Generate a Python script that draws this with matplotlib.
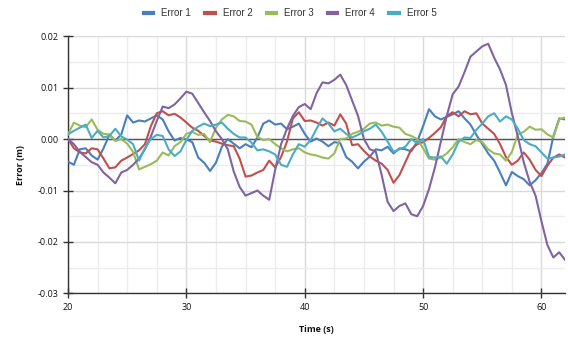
import numpy as np
import matplotlib
matplotlib.use('Agg')
import matplotlib.pyplot as plt
from matplotlib.ticker import MultipleLocator, FuncFormatter

#--------------------------------------------------------------------------------------------------
# DATA (in mm, every 0.5 s)
#--------------------------------------------------------------------------------------------------

time_s = np.arange(20, 62.01, 0.5)

err1_mm = [-4.4, -5.0, -2.0, -1.8, -3.2, -4.0, -1.8, 0.8, -0.3, 0.9,
           4.6, 3.2, 3.6, 3.4, 4.0, 4.6, 3.8, 1.5, -0.3, 0.2,
           -0.1, -0.6, -3.6, -4.6, -6.2, -4.6, -1.5, 0.0, -0.9, -1.8,
           -1.0, -1.6, 0.3, 3.0, 3.6, 2.8, 3.0, 1.9, 2.4, 3.0,
           1.0, -0.5, 0.1, -0.5, -1.4, -0.6, -0.8, -3.5, -4.4, -5.7,
           -4.4, -3.4, -2.0, -2.2, -1.5, -2.8, -1.8, -2.0, -2.4, -0.5,
           2.5, 5.8, 4.4, 3.8, 4.3, 4.8, 5.4, 4.0, 2.8, 0.8,
           -1.0, -2.8, -4.2, -6.5, -9.0, -6.4, -7.2, -7.8, -9.0, -8.0,
           -6.6, -4.8, 0.5, 4.0, 3.8]

err2_mm = [0.0, -1.8, -2.6, -2.8, -1.8, -2.0, -3.8, -5.7, -5.5, -4.2,
           -3.6, -2.9, -2.2, -1.0, 2.5, 5.0, 5.4, 4.6, 4.9, 4.2,
           3.2, 2.2, 1.6, 0.6, -0.3, -0.5, -0.9, -1.2, -1.4, -3.8,
           -7.3, -7.1, -6.5, -6.0, -4.2, -5.5, -3.5, -0.5, 4.0, 5.2,
           3.5, 3.6, 3.2, 2.6, 3.2, 2.6, 4.8, 3.0, -1.2, -1.0,
           -2.3, -3.4, -4.2, -4.8, -6.0, -8.5, -7.0, -4.5, -2.0, -1.0,
           -0.6, 0.2, 1.2, 2.3, 4.5, 5.2, 4.4, 5.4, 4.8, 5.0,
           3.0, 2.0, 1.0, -1.0, -3.5, -5.0, -4.2, -2.6, -4.0, -6.0,
           -7.2, -5.2, -3.6, -3.0, -3.6]

err3_mm = [0.9, 3.2, 2.6, 2.3, 3.8, 1.8, 1.0, 0.9, -0.4, 0.0,
           -0.9, -2.5, -5.9, -5.4, -4.9, -4.2, -2.6, -3.2, -1.4, -0.6,
           1.0, 1.4, 0.8, 1.0, -0.6, 2.2, 3.8, 4.7, 4.4, 3.5,
           3.4, 2.8, 0.4, -0.2, 0.0, -1.0, -1.8, -2.4, -2.0, -1.8,
           -2.6, -3.0, -3.2, -3.6, -3.8, -2.8, 0.0, 0.1, 1.0, 1.4,
           2.0, 3.0, 3.2, 2.6, 2.8, 2.4, 2.2, 1.0, 0.6, 0.0,
           -1.8, -3.8, -4.0, -3.6, -2.8, -1.6, 0.0, -0.6, -1.0, -0.2,
           -0.6, -2.0, -2.8, -3.0, -4.2, -2.5, 0.9, 1.4, 2.4, 1.8,
           1.9, 0.9, 0.3, 3.8, 4.2]

err4_mm = [0.0, -1.0, -2.5, -3.5, -4.5, -5.0, -6.5, -7.5, -8.6, -6.5,
           -6.0, -5.0, -3.8, -2.0, 0.5, 3.5, 6.3, 6.0, 6.7, 7.9,
           9.2, 8.8, 7.0, 5.2, 3.5, 1.5, 0.0, -2.0, -6.3, -9.3,
           -11.0, -10.5, -10.0, -11.0, -11.8, -6.0, -1.0, 2.0, 4.5, 6.2,
           6.8, 5.8, 8.9, 11.0, 10.8, 11.5, 12.5, 10.5, 7.5, 4.5,
           0.0, -2.0, -2.4, -7.0, -12.2, -14.0, -13.0, -12.5, -14.6, -15.0,
           -13.0, -9.7, -5.5, -0.5, 4.5, 8.7, 10.2, 13.0, 16.0, 17.0,
           18.0, 18.5, 15.8, 13.5, 10.5, 5.0, 0.5, -4.5, -8.3, -11.0,
           -16.0, -20.6, -23.0, -22.0, -23.5]

err5_mm = [0.9, 1.6, 2.2, 2.8, 0.2, 1.6, 0.3, 0.6, 2.0, 0.5,
           -0.1, -1.0, -4.2, -1.8, 0.0, 0.8, 0.6, -2.0, -3.3, -2.4,
           -0.2, 1.6, 2.4, 3.0, 2.5, 2.8, 3.2, 2.0, 1.0, 0.3,
           0.3, -0.7, -2.2, -2.0, -2.4, -3.0, -5.0, -5.4, -3.0, -1.0,
           -1.5, -0.2, 2.0, 4.0, 3.0, 1.5, 2.0, 1.0, 0.3, 0.8,
           1.5, 2.0, 2.8, 1.4, -0.5, -2.5, -2.0, -1.5, 0.0, -0.8,
           0.0, -3.5, -3.6, -3.4, -4.8, -3.0, -0.5, 0.3, 0.2, 1.8,
           3.0, 4.4, 5.0, 3.4, 4.4, 3.8, 2.0, -0.2, -1.0, -1.4,
           -2.6, -3.8, -3.6, -3.4, -3.0]

labels = ['Error 1', 'Error 2', 'Error 3', 'Error 4', 'Error 5']
colors = ['#4a7ebf', '#c0504d', '#9bbb59', '#8064a2', '#4bacc6']

#--------------------------------------------------------------------------------------------------
# PLOT
#--------------------------------------------------------------------------------------------------

plt.rcParams['font.family'] = ['Open Sans', 'DejaVu Sans']

fig = plt.figure(figsize=(5.68, 3.40), dpi=100)
ax = fig.add_axes([0.1197, 0.1368, 0.8753, 0.7572])

for vals, lab, col in zip([err1_mm, err2_mm, err3_mm, err4_mm, err5_mm], labels, colors):
    ax.plot(time_s, np.array(vals) / 1000.0, color=col, lw=1.5, label=lab, zorder=3)

ax.axhline(0, color='#555555', lw=1.0, zorder=2)

ax.set_xlim(20, 62)
ax.set_ylim(-0.03, 0.02)
ax.xaxis.set_major_locator(MultipleLocator(10))
ax.xaxis.set_minor_locator(MultipleLocator(2.5))
ax.yaxis.set_major_locator(MultipleLocator(0.01))
ax.yaxis.set_minor_locator(MultipleLocator(0.005))
ax.yaxis.set_major_formatter(FuncFormatter(lambda v, p: '%.2f' % (round(v, 4) + 0.0)))

ax.grid(which='major', color='#d9d9d9', lw=1.0, zorder=0)
ax.grid(which='minor', color='#ececec', lw=1.0, zorder=0)
ax.set_axisbelow(True)

for s in ['top', 'right']:
    ax.spines[s].set_visible(False)
for s in ['left', 'bottom']:
    ax.spines[s].set_color('#333333')
    ax.spines[s].set_linewidth(1.0)

ax.tick_params(which='major', direction='inout', length=7, width=1, color='#333333',
               labelsize=6.5, labelcolor='#111111', pad=3)
ax.tick_params(which='minor', length=0)

ax.set_xlabel('Time (s)', fontsize=6.5, fontweight='bold', color='#111111', labelpad=10)
ax.set_ylabel('Error (m)', fontsize=6.5, fontweight='bold', color='#111111', labelpad=9)

handles, labs = ax.get_legend_handles_labels()
leg = fig.legend(handles, labs, loc='center', bbox_to_anchor=(0.511, 0.962), ncol=5,
                 frameon=False, prop={'family': 'Liberation Sans', 'size': 7},
                 handlelength=0.95, handletextpad=0.85, columnspacing=1.45)
for t in leg.get_texts():
    t.set_color('#333333')
for h in leg.legend_handles:
    h.set_linewidth(3)

fig.savefig('out.png', dpi=100)
